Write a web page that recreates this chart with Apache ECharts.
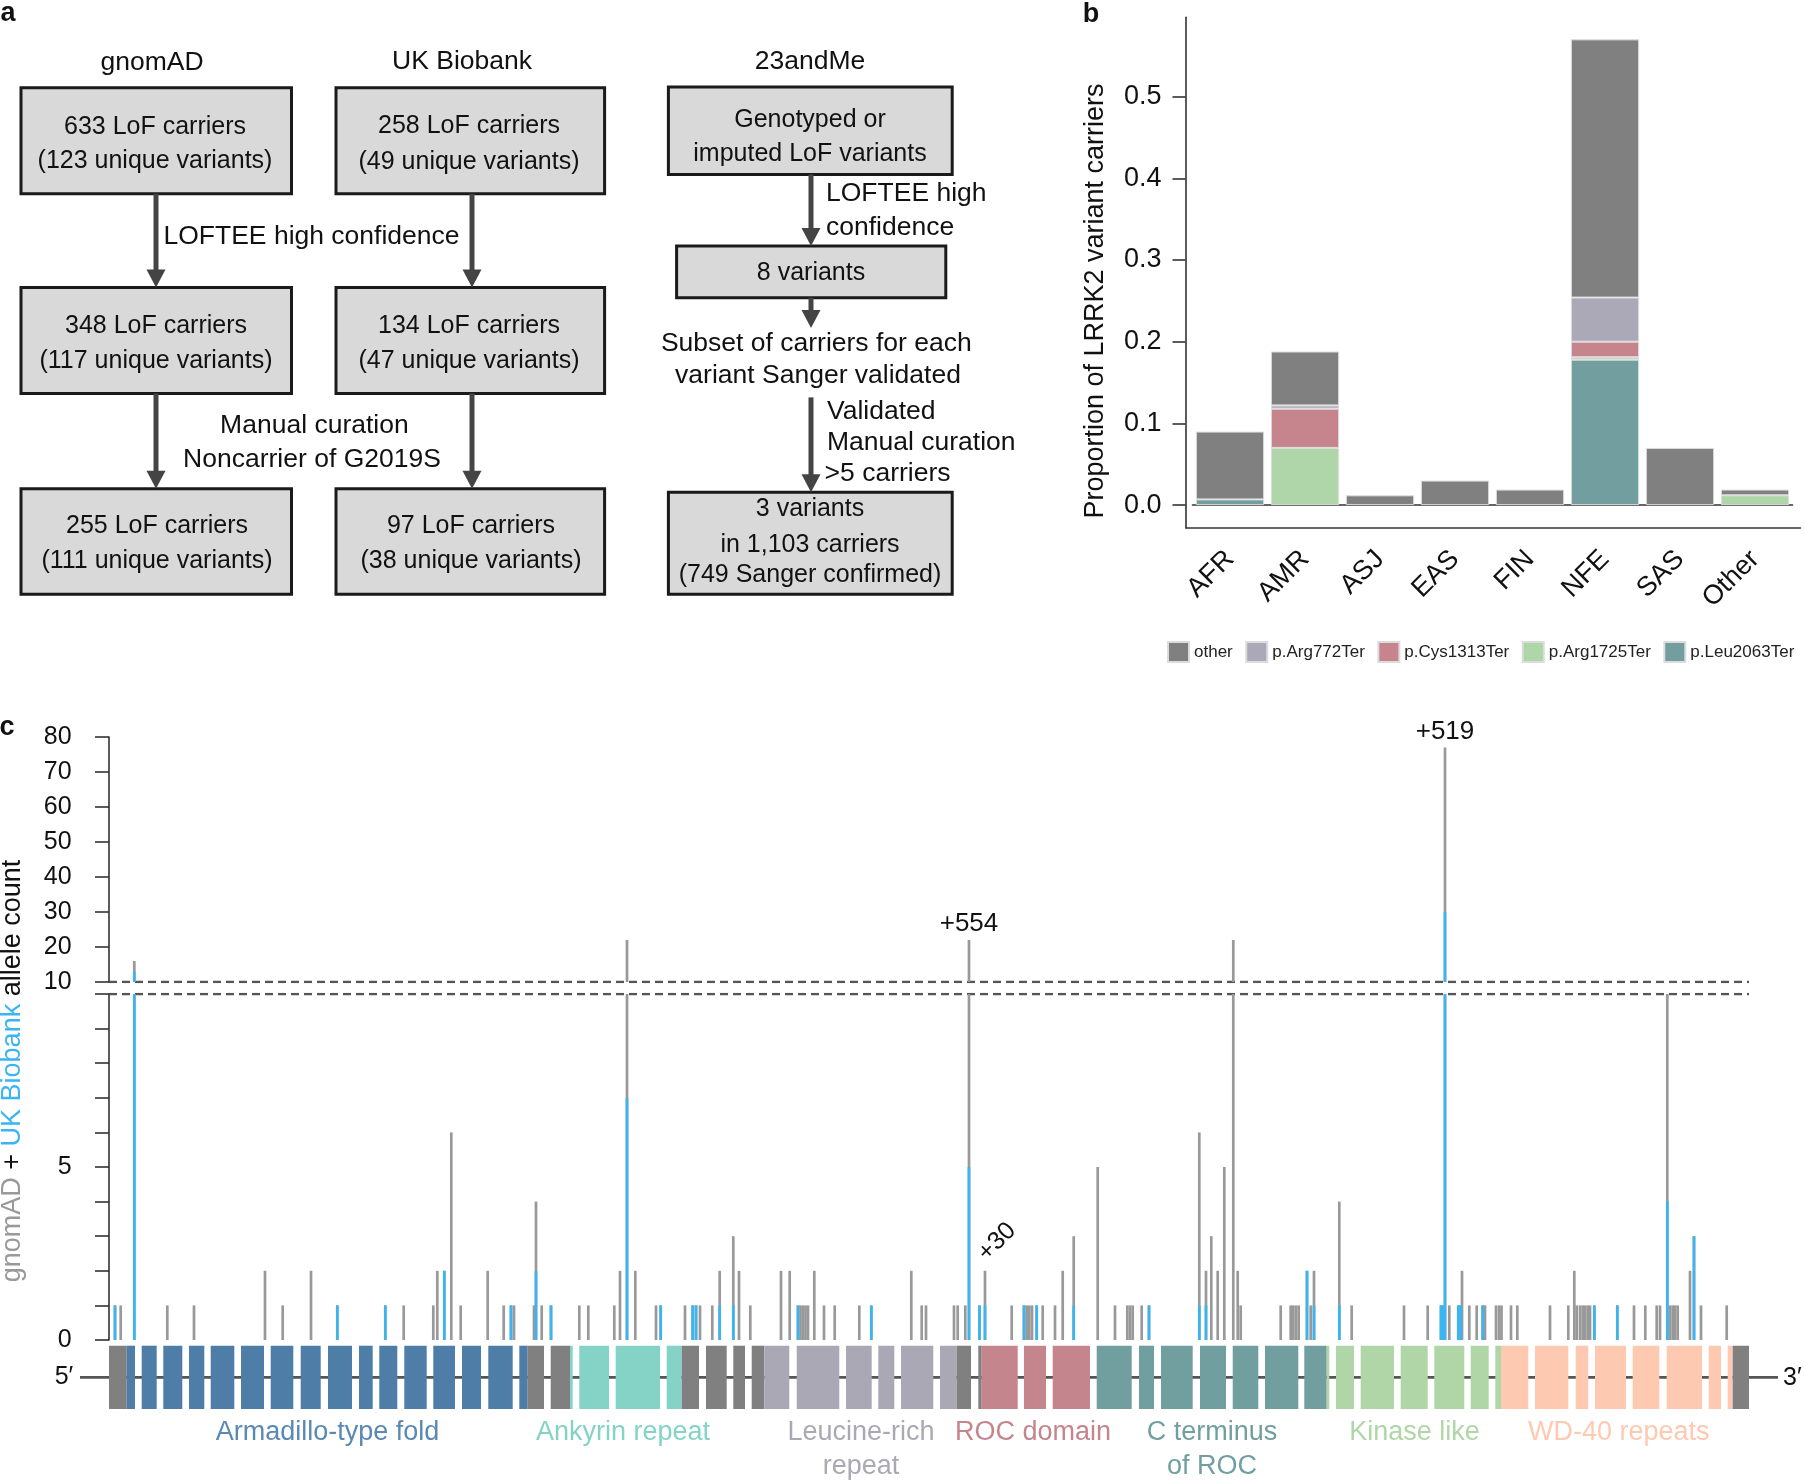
<!DOCTYPE html>
<html><head><meta charset="utf-8">
<script src="https://cdn.jsdelivr.net/npm/echarts@6/dist/echarts.min.js"></script>
<style>html,body{margin:0;padding:0;background:#fff}#c{width:1804px;height:1481px}</style>
</head><body><div id="c"></div>
<script>
// ---------------- Panel b data ----------------
const popCategories = ['AFR','AMR','ASJ','EAS','FIN','NFE','SAS','Other'];
const propLeu2063Ter = [0.007,0,0,0,0,0.178,0,0];
const propArg1725Ter = [0,0.070,0,0,0,0.003,0,0.012];
const propCys1313Ter = [0,0.048,0,0,0,0.019,0,0];
const propArg772Ter  = [0,0.004,0,0,0,0.054,0,0];
const propOther      = [0.083,0.066,0.012,0.030,0.019,0.316,0.070,0.007];
const barTickValues  = [0,0.1,0.2,0.3,0.4,0.5];

// ---------------- Panel c data ----------------
// position along the transcript track (arbitrary units), total allele count (gnomAD + UKB), UK Biobank count
const variantPos = [6,11.7,25.3,58.3,85,156,173.7,202,228.3,276.3,294.7,324.3,328.3,335.3,342.3,351.7,378.7,394.7,402,405,
 425,427,432.7,442,470.3,479.3,505.3,511,518,526.3,547,551.7,576,583.7,587,591,603.3,610.7,624.3,630,
 641.3,672,680.7,689,691.5,694,696.5,699,705.3,715,725.7,750.3,762.3,802.3,812.7,817,845,848.7,856.3,860,
 870.5,876,902.7,915,917.7,920.3,923,927.7,933.7,946,953.7,964.7,988.7,1006,1018.3,1021,1023.7,1032.7,1040,1090.3,
 1097,1102.3,1108.7,1115.3,1124.3,1128.7,1131.7,1171.7,1181.7,1184.3,1187,1189.7,1198,1201.7,1205,1230.3,1242.7,1295,1318.7,1332,
 1333.7,1336,1340.3,1349.3,1351.7,1353,1360.3,1367.7,1373.7,1376,1387,1390,1392.5,1402,1408.3,1441,1459.3,1465.3,1467.7,1471,
 1473.7,1476,1478.7,1481,1485.3,1508.3,1525,1536.3,1547.7,1551,1558.3,1561,1563.7,1566,1568.7,1581,1585,1592,1617.7];
const totalCount = [1,1,16,1,1,2,1,2,1,1,1,1,2,2,6,1,2,1,1,1,
 1,4,1,1,1,1,1,2,22,2,1,1,1,1,1,1,1,2,3,2,
 1,2,2,1,1,1,1,1,2,1,1,1,1,2,1,1,1,1,1,22,
 1,2,1,1,1,1,1,1,1,1,2,3,5,1,1,1,1,1,1,6,
 2,3,2,5,22,2,1,1,1,1,1,1,2,1,2,4,1,1,1,1,
 1,77,1,1,1,2,1,1,1,1,1,1,1,1,1,1,1,2,1,1,
 1,1,1,1,1,1,1,1,1,1,10,1,1,1,1,2,3,1,1];
const ukbCount = [1,0,13,0,0,0,0,0,1,1,0,0,0,2,0,0,0,0,1,0,
 0,2,0,1,0,0,0,0,7,0,0,1,0,1,1,0,0,1,1,0,
 0,0,0,1,0,0,0,0,0,0,0,0,1,0,0,0,0,0,0,5,
 1,1,0,1,0,0,0,1,0,0,0,1,0,0,0,0,0,0,1,1,
 1,0,0,0,0,0,0,0,0,0,0,0,2,0,1,1,0,0,0,1,
 1,30,0,1,1,0,0,0,1,0,0,0,0,0,0,0,0,0,0,0,
 0,0,0,0,1,1,0,0,0,0,4,0,0,0,0,0,3,0,0];
const annPos   = [860, 1336, 876];
const annCount = [22, 77, 2];
const annText  = ['+554', '+519', '+30'];

// exons: start, end, domain index
const exonStart  = [0,17.7,32.7,54.3,80,101.7,132,161.7,191.7,219,250,270.3,295.3,324.3,353,379.3,410.3,418.7,441.7,461,
 470.3,506.7,557.7,572.7,597,624.3,642.7,655.3,687.7,737,769.3,792,831,847.7,869.3,872.7,915,943.7,987.7,1030,
 1052,1091,1123.7,1156,1195.3,1217.7,1227,1251.7,1291.7,1325.3,1361.7,1386.3,1392,1426,1466.7,1486,1523.7,1557.7,1599.7,1618.7,1623.7];
const exonEnd    = [17.7,26,47.7,73.3,95.3,125.3,155,184.3,211.7,243,263.7,288.3,317.7,346,372,403.7,418.7,435,461,463.7,
 500,551,572.7,590,617.7,636,655.3,680.3,730.3,762.7,785.3,824.3,847.7,862,872.7,908.7,937,981,1022.7,1045,
 1083.7,1117,1149.3,1189.3,1217.7,1220.3,1245,1285,1318.7,1355.3,1379.7,1392,1419.3,1459.3,1479.3,1517,1550.3,1593,1612,1623.7,1640];
const exonDomain = [0,1,1,1,1,1,1,1,1,1,1,1,1,1,1,1,1,0,0,2,
 2,2,2,0,0,0,0,3,3,3,3,3,3,0,0,4,4,4,5,5,
 5,5,5,5,5,6,6,6,6,6,6,6,7,7,7,7,7,7,7,7,0];
const domainNames = ['', 'Armadillo-type fold', 'Ankyrin repeat', 'Leucine-rich\nrepeat', 'ROC domain', 'C terminus\nof ROC', 'Kinase like', 'WD-40 repeats'];
const domainLabelPos = [null, 218.5, 514, 752, 924, 1103, 1305.5, 1509.7];
const intronSpan = [-29, 1669];
const trackRange = [0, 1640];
const upperRange = [10, 80];
const lowerRange = [0, 10];

// ---------------- styles ----------------
const FONT = '"Liberation Sans", Arial, Helvetica, sans-serif';
const exonColors  = ['#808080','#4e7ea7','#84d3c6','#aba8b6','#c5858c','#719e9f','#b0d6a8','#fec9b1'];
const labelColors = ['#808080','#5a89b3','#84d3c6','#aba8b6','#c5858c','#719e9f','#b0d6a8','#fec9b1'];
const GRAY = '#999999', BLUE = '#3bb5f2', AX = '#333';

// ---------------- panel a (flow chart) ----------------
const G = [];
function box(x,y,w,h){ G.push({type:'rect', shape:{x:x,y:y,width:w,height:h}, style:{fill:'#d9d9d9', stroke:'#1a1a1a', lineWidth:3}}); }
function txt(x,y,s,size,align,extra){
  G.push(Object.assign({type:'text', x:x, y:y, style:{text:s, fill:'#111', font:(size||25)+'px '+FONT,
    textAlign:align||'center', textVerticalAlign:'middle', align:align||'center', verticalAlign:'middle'}}, extra||{}));
}
function arrow(x,y1,y2){
  G.push({type:'line', shape:{x1:x,y1:y1,x2:x,y2:y2-12}, style:{stroke:'#444', lineWidth:5}});
  G.push({type:'polygon', shape:{points:[[x-9.5,y2-18],[x+9.5,y2-18],[x,y2]]}, style:{fill:'#444'}});
}
txt(8,14,'a',27,'center'); G[G.length-1].style.font = 'bold 27px '+FONT;
txt(1091,15,'b',27,'center'); G[G.length-1].style.font = 'bold 27px '+FONT;
txt(7,728,'c',27,'center'); G[G.length-1].style.font = 'bold 27px '+FONT;

txt(152,62.5,'gnomAD',26.5); txt(462,62,'UK Biobank',26.5); txt(810,62,'23andMe',26.5);
box(21,87.8,270.5,106); box(21,287.5,270.5,106); box(21,488.7,270.5,105.6);
box(336,87.8,268.6,106); box(336,287.5,268.6,106); box(336,488.7,268.6,105.6);
box(668.4,87,283.8,87.4); box(676.6,246,269.2,51.7); box(668.4,492.3,283.8,102);
txt(155,127.3,'633 LoF carriers'); txt(155,161.3,'(123 unique variants)');
txt(156,326.6,'348 LoF carriers'); txt(156,361,'(117 unique variants)');
txt(157,526,'255 LoF carriers'); txt(157,561.5,'(111 unique variants)');
txt(469,126.5,'258 LoF carriers'); txt(469,162,'(49 unique variants)');
txt(469,326.6,'134 LoF carriers'); txt(469,361,'(47 unique variants)');
txt(471,526,'97 LoF carriers'); txt(471,561.5,'(38 unique variants)');
txt(810,120.6,'Genotyped or'); txt(810,154.2,'imputed LoF variants');
txt(811,272.8,'8 variants');
txt(810,509,'3 variants'); txt(810,545,'in 1,103 carriers'); txt(810,575.3,'(749 Sanger confirmed)');
arrow(156,193.7,287.5); arrow(156,393.4,488.7); arrow(472,193.7,287.5); arrow(472,393.4,488.7);
arrow(811,174.4,246); arrow(811,297.7,328); arrow(811,397.4,492.3);
txt(311.5,236.5,'LOFTEE high confidence',26.5);
txt(314.4,425.8,'Manual curation',26.5); txt(312,459.9,'Noncarrier of G2019S',26.5);
txt(826,193.8,'LOFTEE high',26.5,'left'); txt(826,227.4,'confidence',26.5,'left');
txt(816.3,343.2,'Subset of carriers for each',26.5); txt(818,375.6,'variant Sanger validated',26.5);
txt(827,411.2,'Validated',26.5,'left'); txt(827,442.9,'Manual curation',26.5,'left'); txt(824.6,473.7,'>5 carriers',26.5,'left');

// panel b y-axis title
txt(1096,301,'Proportion of LRRK2 variant carriers',27,'center',{rotation:Math.PI/2});
// panel c y-axis title (multi-coloured)
G.push({type:'text', x:13, y:1071, rotation:Math.PI/2, style:{
  text:'{g|gnomAD} {k|+} {b|UK Biobank} {k|allele count}',
  textAlign:'center', textVerticalAlign:'middle', align:'center', verticalAlign:'middle',
  font:'27px '+FONT,
  rich:{ g:{fill:'#999', fontSize:27, fontFamily:FONT, color:'#999'},
         k:{fill:'#111', fontSize:27, fontFamily:FONT, color:'#111'},
         b:{fill:BLUE, fontSize:27, fontFamily:FONT, color:BLUE} } }});
txt(64,1377,"5\u2032",25,'center');
txt(1783,1378,"3\u2032",25,'left');
// panel b x-axis baseline continuation (axis spans beyond the category bands)
G.push({type:'line', shape:{x1:1185.5,y1:528,x2:1801,y2:528}, style:{stroke:AX, lineWidth:1.6}, z:-1});

// ---------------- panel c series helpers ----------------
function stem(lo, hi, color){
  return function(params, api){
    const x = api.value(0), v = api.value(1);
    const top = Math.min(v, hi);
    if (!(top > lo)) return null;
    const a = api.coord([x, lo]), b = api.coord([x, top]);
    return {type:'rect', shape:{x:a[0]-1.35, y:b[1], width:2.7, height:a[1]-b[1]}, style:{fill:color}};
  };
}
const totalData = variantPos.map((p,i)=>[p,totalCount[i]]);
const ukbData = variantPos.map((p,i)=>[p,ukbCount[i]]).filter(d=>d[1]>0);
const annData = annPos.map((p,i)=>[p,annCount[i],i]);
const exonData = exonStart.map((s,i)=>[s,exonEnd[i],exonDomain[i]]);
const domainLabelData = domainLabelPos.map((p,i)=>[p,i]).filter(d=>d[0]!==null);

const hiddenX = i => ({type:'value', gridIndex:i, min:trackRange[0], max:trackRange[1], show:false});
const yStyle = {
  axisLine:{show:true, lineStyle:{color:AX, width:1.6}},
  axisTick:{show:true, length:14, lineStyle:{color:AX, width:1.6}},
  splitLine:{show:false}
};

const option = {
  animation:false,
  backgroundColor:'#fff',
  textStyle:{fontFamily:FONT},
  graphic:{elements:G},
  legend:{left:1162, top:636, itemWidth:21, itemHeight:20, itemGap:12.5, icon:'rect',
    textStyle:{fontSize:17, color:'#222', fontFamily:FONT},
    data:['other','p.Arg772Ter','p.Cys1313Ter','p.Arg1725Ter','p.Leu2063Ter']},
  grid:[
    {left:1192.5, top:17.3, width:600, height:510.7},
    {left:109, top:737, width:1640, height:245},
    {left:109, top:994, width:1640, height:346},
    {left:109, top:1345.7, width:1640, height:63.3}
  ],
  xAxis:[
    {type:'category', gridIndex:0, data:popCategories,
     axisLine:{lineStyle:{color:AX, width:1.6}},
     axisTick:{alignWithLabel:true, length:10, lineStyle:{color:AX, width:1.6}},
     axisLabel:{rotate:45, fontSize:27, color:'#111', margin:27, interval:0}},
    hiddenX(1), hiddenX(2), hiddenX(3)
  ],
  yAxis:[
    Object.assign({type:'value', gridIndex:0, min:-0.028, max:0.597, offset:7,
      axisLabel:{fontSize:27, color:'#111', margin:24, customValues:barTickValues,
        formatter:v=> (Math.abs(v*10-Math.round(v*10))<1e-6 && v>=0 && v<=0.5) ? v.toFixed(1) : ''}}, yStyle,
      {axisTick:{show:true, length:13, customValues:barTickValues, lineStyle:{color:AX, width:1.6}}}),
    Object.assign({type:'value', gridIndex:1, min:upperRange[0], max:upperRange[1], interval:10, offset:11.4,
      axisLabel:{fontSize:25, color:'#111', margin:26}}, yStyle),
    Object.assign({type:'value', gridIndex:2, min:lowerRange[0], max:lowerRange[1], interval:1, offset:11.4,
      axisLabel:{fontSize:25, color:'#111', margin:26, formatter:v=>(v===0||v===5)?String(v):''}}, yStyle),
    {type:'value', gridIndex:3, min:0, max:1, show:false}
  ],
  series:[
    // ---- panel b ----
    {name:'p.Leu2063Ter', type:'bar', stack:'s', xAxisIndex:0, yAxisIndex:0, barCategoryGap:'9%',
      data:propLeu2063Ter.map(v=>v||null), itemStyle:{color:'#729e9f', borderColor:'#dcdcdc', borderWidth:1}},
    {name:'p.Arg1725Ter', type:'bar', stack:'s', xAxisIndex:0, yAxisIndex:0,
      data:propArg1725Ter.map(v=>v||null), itemStyle:{color:'#afd6a8', borderColor:'#dcdcdc', borderWidth:1}},
    {name:'p.Cys1313Ter', type:'bar', stack:'s', xAxisIndex:0, yAxisIndex:0,
      data:propCys1313Ter.map(v=>v||null), itemStyle:{color:'#c6858c', borderColor:'#dcdcdc', borderWidth:1}},
    {name:'p.Arg772Ter', type:'bar', stack:'s', xAxisIndex:0, yAxisIndex:0,
      data:propArg772Ter.map(v=>v||null), itemStyle:{color:'#aba8b8', borderColor:'#dcdcdc', borderWidth:1}},
    {name:'other', type:'bar', stack:'s', xAxisIndex:0, yAxisIndex:0,
      data:propOther.map(v=>v||null), itemStyle:{color:'#808080', borderColor:'#dcdcdc', borderWidth:1}},

    // ---- panel c: break lines ----
    {type:'line', xAxisIndex:1, yAxisIndex:1, symbol:'none', silent:true,
      data:[[trackRange[0],upperRange[0]],[trackRange[1],upperRange[0]]],
      lineStyle:{color:'#555', width:2.7, type:[8,5]}, z:1},
    {type:'line', xAxisIndex:2, yAxisIndex:2, symbol:'none', silent:true,
      data:[[trackRange[0],lowerRange[1]],[trackRange[1],lowerRange[1]]],
      lineStyle:{color:'#555', width:2.7, type:[8,5]}, z:1},

    // ---- panel c: stems ----
    {type:'custom', xAxisIndex:2, yAxisIndex:2, data:totalData, renderItem:stem(lowerRange[0], lowerRange[1], GRAY), z:2},
    {type:'custom', xAxisIndex:2, yAxisIndex:2, data:ukbData, renderItem:stem(lowerRange[0], lowerRange[1], BLUE), z:3},
    {type:'custom', xAxisIndex:1, yAxisIndex:1, data:totalData.filter(d=>d[1]>upperRange[0]), renderItem:stem(upperRange[0], upperRange[1], GRAY), z:2},
    {type:'custom', xAxisIndex:1, yAxisIndex:1, data:ukbData.filter(d=>d[1]>upperRange[0]), renderItem:stem(upperRange[0], upperRange[1], BLUE), z:3},

    // ---- annotations ----
    {type:'custom', xAxisIndex:1, yAxisIndex:1, data:annData.filter(d=>d[1]>upperRange[0]), z:4,
      renderItem:function(params, api){
        const p = api.coord([api.value(0), api.value(1)]);
        return {type:'text', x:p[0], y:p[1]-16, style:{text:annText[api.value(2)], fill:'#111', font:'26px '+FONT,
          textAlign:'center', textVerticalAlign:'middle', align:'center', verticalAlign:'middle'}};
      }},
    {type:'custom', xAxisIndex:2, yAxisIndex:2, data:annData.filter(d=>d[1]<=upperRange[0]), z:4,
      renderItem:function(params, api){
        const p = api.coord([api.value(0), api.value(1)]);
        return {type:'text', x:p[0]+12, y:p[1]-29, rotation:Math.PI/4, style:{text:annText[api.value(2)], fill:'#111', font:'25px '+FONT,
          textAlign:'center', textVerticalAlign:'middle', align:'center', verticalAlign:'middle'}};
      }},

    // ---- exon track ----
    {type:'custom', xAxisIndex:3, yAxisIndex:3, data:[intronSpan], z:1,
      renderItem:function(params, api){
        const a = api.coord([api.value(0), 0.5]), b = api.coord([api.value(1), 0.5]);
        return {type:'line', shape:{x1:a[0], y1:a[1], x2:b[0], y2:b[1]}, style:{stroke:'#555', lineWidth:2.6}};
      }},
    {type:'custom', xAxisIndex:3, yAxisIndex:3, data:exonData, z:2,
      renderItem:function(params, api){
        const a = api.coord([api.value(0), 0]), b = api.coord([api.value(1), 1]);
        return {type:'rect', shape:{x:a[0], y:b[1], width:b[0]-a[0], height:a[1]-b[1]},
          style:{fill:exonColors[api.value(2)]}};
      }},
    {type:'custom', xAxisIndex:3, yAxisIndex:3, data:domainLabelData, z:2,
      renderItem:function(params, api){
        const a = api.coord([api.value(0), 0]);
        const k = api.value(1);
        return {type:'text', x:a[0], y:a[1]+7, style:{text:domainNames[k], fill:labelColors[k], font:'27px '+FONT,
          lineHeight:33.5, textAlign:'center', textVerticalAlign:'top', align:'center', verticalAlign:'top'}};
      }}
  ]
};
const chart = echarts.init(document.getElementById('c'), null, {renderer:'canvas'});
chart.setOption(option);
</script></body></html>
